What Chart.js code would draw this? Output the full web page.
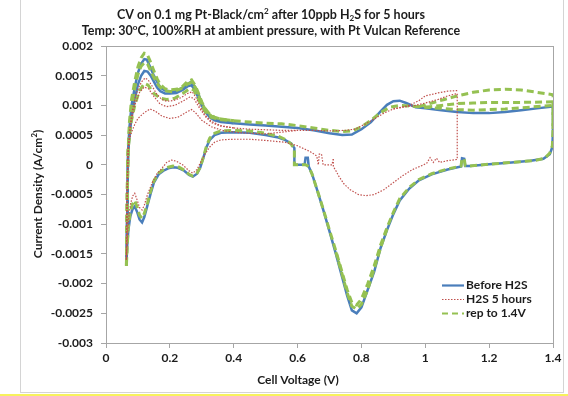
<!DOCTYPE html>
<html>
<head>
<meta charset="utf-8">
<script src="https://cdn.jsdelivr.net/npm/chart.js@4.4.1/dist/chart.umd.min.js"></script>
<style>
  html, body { margin: 0; padding: 0; background: #fff; }
  #cv { display: block; }
</style>
</head>
<body>
<canvas id="cv" width="568" height="396"></canvas>
<script>
// ---- tick values ----
const voltageTicks = [0, 0.2, 0.4, 0.6, 0.8, 1, 1.2, 1.4];
const currentTicks = [-0.003, -0.0025, -0.002, -0.0015, -0.001, -0.0005, 0, 0.0005, 0.001, 0.0015, 0.002];
const seriesNames = ['Before H2S', 'H2S 5 hours', 'rep to 1.4V'];

// ---- Before H2S: [V, A/cm2] ----
const beforeAnodicA = [[0.064,-0.00168],[0.066,-0.0009],[0.068,0],[0.072,0.0004],[0.08,0.0008],[0.09,0.0011],[0.1,0.00135],[0.11,0.0015],[0.12,0.00158],[0.13,0.00157],[0.14,0.0015],[0.15,0.0014],[0.16,0.0013],[0.17,0.00124],[0.185,0.0012],[0.2,0.0012],[0.22,0.00121],[0.24,0.00126],[0.255,0.00132],[0.268,0.00134],[0.28,0.00124],[0.29,0.00112],[0.3,0.001],[0.31,0.0009],[0.325,0.0008],[0.34,0.00075],[0.36,0.00072],[0.4,0.0007]];
const beforeAnodicB = [[0.064,-0.0017],[0.067,-0.0006],[0.069,0.0002],[0.073,0.0006],[0.08,0.001],[0.09,0.0013],[0.1,0.00155],[0.11,0.0017],[0.12,0.00178],[0.128,0.00177],[0.138,0.00165],[0.15,0.0015],[0.16,0.0014],[0.17,0.0013],[0.185,0.00125],[0.2,0.00124],[0.22,0.00124],[0.24,0.0013],[0.255,0.00136],[0.268,0.0014],[0.28,0.0013],[0.29,0.00118],[0.3,0.00104],[0.31,0.00093],[0.325,0.00083],[0.34,0.00077],[0.36,0.00074],[0.4,0.0007]];
const beforeCycle = [[0.4,0.0007],[0.45,0.00068],[0.5,0.00066],[0.55,0.00064],[0.6,0.00062],[0.65,0.00058],[0.7,0.00053],[0.74,0.0005],[0.77,0.00051],[0.8,0.0006],[0.83,0.00072],[0.86,0.0009],[0.88,0.00101],[0.9,0.00107],[0.92,0.00108],[0.94,0.00104],[0.97,0.00097],[1.0,0.00095],[1.05,0.00092],[1.1,0.00089],[1.15,0.00087],[1.2,0.00087],[1.25,0.00089],[1.3,0.00092],[1.35,0.00095],[1.4,0.00098],
  [1.4,0.0006],[1.398,0.0003],[1.39,0.00018],[1.37,0.0001],[1.33,0.00007],[1.27,0.00004],[1.2,0.00001],[1.14,-0.00002],[1.125,-0.00002],[1.122,0.0001],[1.115,0.00011],[1.112,-0.00003],[1.07,-0.00008],[1.02,-0.00016],[0.98,-0.00026],[0.95,-0.0004],[0.92,-0.0006],[0.9,-0.00083],[0.88,-0.0011],[0.86,-0.0014],[0.84,-0.0018],[0.82,-0.0021],[0.8,-0.0024],[0.785,-0.0025],[0.77,-0.00245],[0.755,-0.0022],[0.74,-0.0019],[0.72,-0.0015],[0.7,-0.00112],[0.68,-0.00075],[0.66,-0.0004],[0.645,-0.00015],[0.635,-0.00003],[0.632,0.00012],[0.625,0.00012],[0.622,0],[0.59,0],[0.59,0.00028],[0.58,0.00036],[0.56,0.00042],[0.54,0.00046],[0.5,0.0005],[0.45,0.00054],[0.4,0.00055],[0.36,0.00054],[0.34,0.0005],[0.325,0.00042],[0.315,0.0003],[0.305,0.00012],[0.295,-0.00005],[0.285,-0.00015],[0.272,-0.0002],[0.26,-0.00017],[0.245,-0.0001],[0.225,-0.00005],[0.21,-0.00004],[0.195,-0.00006],[0.18,-0.0001],[0.165,-0.00016],[0.15,-0.0003],[0.14,-0.00048],[0.13,-0.00068],[0.12,-0.00088],[0.113,-0.00097],[0.105,-0.00092],[0.098,-0.0008],[0.09,-0.0007],[0.083,-0.00075],[0.076,-0.00087],[0.07,-0.0011],[0.066,-0.0014],[0.064,-0.00168]];

// ---- H2S 5 hours ----
const h2sAnodicA = [[0.064,-0.0016],[0.067,-0.0005],[0.069,0.0002],[0.074,0.0006],[0.082,0.0009],[0.092,0.00115],[0.102,0.0013],[0.112,0.0014],[0.122,0.00146],[0.132,0.00143],[0.145,0.00132],[0.16,0.00118],[0.175,0.0011],[0.19,0.00107],[0.21,0.00108],[0.235,0.00113],[0.255,0.0012],[0.27,0.00123],[0.282,0.00113],[0.295,0.00098],[0.31,0.00084],[0.33,0.00073],[0.36,0.00066],[0.4,0.00062]];
const h2sAnodicB = [[0.064,-0.0016],[0.066,-0.0004],[0.07,0.0003],[0.078,0.0007],[0.09,0.001],[0.105,0.00122],[0.12,0.00131],[0.133,0.00128],[0.15,0.00115],[0.17,0.00102],[0.19,0.00098],[0.215,0.001],[0.24,0.00107],[0.262,0.00114],[0.275,0.00112],[0.29,0.00098],[0.31,0.00082],[0.33,0.00071],[0.36,0.00065],[0.4,0.00062]];
const h2sAnodicC = [[0.064,-0.0016],[0.066,-0.0006],[0.068,0.0001],[0.072,0.0004],[0.08,0.00055],[0.09,0.00068],[0.1,0.00078],[0.12,0.00088],[0.138,0.00094],[0.155,0.0009],[0.175,0.00082],[0.2,0.00078],[0.225,0.0008],[0.25,0.00088],[0.268,0.00093],[0.28,0.00088],[0.3,0.00075],[0.33,0.00064],[0.37,0.00057],[0.42,0.00054],[0.5,0.00052],[0.55,0.00055],[0.6,0.00058]];
const h2sHighLoop = [[0.9,0.00094],[0.95,0.001],[0.98,0.00108],[1.0,0.00116],[1.04,0.00121],[1.07,0.00124],[1.1,0.00125]];
const h2sCycle = [[0.4,0.00062],[0.45,0.0006],[0.5,0.00059],[0.55,0.00058],[0.6,0.00058],[0.65,0.00058],[0.7,0.00057],[0.75,0.00058],[0.78,0.0006],[0.81,0.00068],[0.84,0.00077],[0.87,0.00087],[0.9,0.00094],[0.93,0.00097],[0.96,0.00099],[1.0,0.00104],[1.04,0.0011],[1.07,0.00116],[1.1,0.0012],
  [1.1,0.0006],[1.1,0.00009],[1.07,0.00007],[1.045,0.00004],[1.035,0.00011],[1.025,0.00004],[1.015,0.00012],[1.005,0.00003],[0.995,0],[0.96,-0.00008],[0.93,-0.00018],[0.9,-0.0003],[0.87,-0.00042],[0.84,-0.0005],[0.815,-0.00052],[0.79,-0.0005],[0.765,-0.00042],[0.745,-0.00032],[0.73,-0.0002],[0.72,-0.0001],[0.712,-0.00003],[0.712,0.00011],[0.708,0],[0.68,0],[0.675,0.00018],[0.668,0.00018],[0.665,0],[0.66,0.00015],[0.64,0.00022],[0.6,0.00032],[0.56,0.00038],[0.5,0.00041],[0.45,0.00043],[0.4,0.00043],[0.36,0.00042],[0.34,0.00038],[0.325,0.0003],[0.31,0.00018],[0.3,0.00008],[0.285,-0.00008],[0.272,-0.00014],[0.26,-0.0001],[0.24,0],[0.22,0.00006],[0.205,0.00008],[0.19,0.00004],[0.175,-0.00006],[0.16,-0.00015],[0.145,-0.0003],[0.13,-0.0005],[0.12,-0.00068],[0.113,-0.00076],[0.105,-0.00072],[0.098,-0.0006],[0.09,-0.00048],[0.084,-0.00052],[0.077,-0.00065],[0.071,-0.0009],[0.067,-0.0012],[0.064,-0.0016]];

// ---- rep to 1.4V ----
const repAnodicA = [[0.064,-0.0017],[0.067,-0.0005],[0.069,0.0002],[0.073,0.0007],[0.08,0.0011],[0.09,0.0014],[0.1,0.00165],[0.11,0.0018],[0.12,0.00188],[0.128,0.00187],[0.138,0.00175],[0.15,0.00158],[0.16,0.00145],[0.17,0.00135],[0.185,0.00128],[0.2,0.00126],[0.22,0.00127],[0.24,0.00132],[0.255,0.0014],[0.268,0.00143],[0.28,0.00133],[0.29,0.0012],[0.3,0.00106],[0.31,0.00095],[0.325,0.00085],[0.34,0.0008],[0.36,0.00077],[0.4,0.00074]];
const repAnodicB = [[0.064,-0.0017],[0.066,-0.0008],[0.068,0.0001],[0.072,0.0005],[0.08,0.00095],[0.09,0.0013],[0.1,0.00152],[0.11,0.00166],[0.12,0.00172],[0.13,0.0017],[0.14,0.00158],[0.15,0.00147],[0.16,0.00137],[0.175,0.00128],[0.19,0.00124],[0.21,0.00123],[0.235,0.00128],[0.255,0.00136],[0.268,0.00139],[0.28,0.0013],[0.29,0.00117],[0.3,0.00103],[0.315,0.0009],[0.33,0.00082],[0.35,0.00078],[0.4,0.00074]];
const repAnodicC = [[0.064,-0.0017],[0.066,-0.0005],[0.07,0.0003],[0.078,0.0007],[0.09,0.001],[0.105,0.00125],[0.12,0.00137],[0.132,0.00134],[0.15,0.0012],[0.17,0.00112],[0.19,0.0011],[0.215,0.00112],[0.24,0.0012],[0.262,0.00128],[0.275,0.00126],[0.29,0.0011],[0.31,0.0009],[0.33,0.0008],[0.36,0.00076],[0.4,0.00074]];
const repHighA = [[0.98,0.00098],[1.02,0.00104],[1.06,0.0011],[1.1,0.00116],[1.15,0.00122],[1.2,0.00126],[1.25,0.00127],[1.3,0.00126],[1.35,0.00122],[1.4,0.00118],[1.4,0.0006]];
const repHighB = [[1.0,0.00097],[1.05,0.001],[1.1,0.00103],[1.15,0.00104],[1.2,0.00105],[1.3,0.00105],[1.4,0.00106]];
const repPeakDeep = [[0.88,-0.00108],[0.86,-0.0014],[0.84,-0.00175],[0.82,-0.0021],[0.8,-0.00235],[0.785,-0.00243],[0.77,-0.00238],[0.755,-0.00215],[0.74,-0.00185],[0.72,-0.00147]];
const repCycle = [[0.4,0.00074],[0.45,0.00072],[0.5,0.0007],[0.55,0.00069],[0.6,0.00066],[0.65,0.00062],[0.7,0.00058],[0.74,0.00056],[0.77,0.00057],[0.8,0.00064],[0.83,0.00075],[0.86,0.00088],[0.89,0.00097],[0.92,0.001],[0.95,0.00099],[1.0,0.00097],[1.05,0.00095],[1.1,0.00093],[1.15,0.00092],[1.2,0.00093],[1.25,0.00094],[1.3,0.00096],[1.35,0.00098],[1.4,0.001],
  [1.4,0.0006],[1.398,0.00032],[1.39,0.0002],[1.375,0.00011],[1.34,0.00007],[1.27,0.00004],[1.2,0.00001],[1.14,-0.00002],[1.125,-0.00001],[1.122,0.0001],[1.115,0.0001],[1.112,-0.00002],[1.07,-0.00007],[1.02,-0.00015],[0.98,-0.00025],[0.95,-0.00038],[0.92,-0.00057],[0.9,-0.0008],[0.88,-0.00106],[0.86,-0.00135],[0.84,-0.0017],[0.82,-0.002],[0.8,-0.00226],[0.785,-0.00236],[0.77,-0.00232],[0.755,-0.0021],[0.74,-0.00182],[0.72,-0.00145],[0.7,-0.0011],[0.68,-0.00074],[0.66,-0.0004],[0.645,-0.00015],[0.635,-0.00003],[0.625,0],[0.59,0],[0.59,0.00025],[0.58,0.00035],[0.56,0.00043],[0.54,0.00048],[0.5,0.00053],[0.45,0.00057],[0.4,0.00058],[0.36,0.00057],[0.34,0.00053],[0.325,0.00045],[0.315,0.00032],[0.305,0.00013],[0.295,-0.00004],[0.285,-0.00014],[0.272,-0.00019],[0.26,-0.00016],[0.245,-0.00009],[0.225,-0.00003],[0.21,-0.00002],[0.195,-0.00004],[0.18,-0.00008],[0.165,-0.00014],[0.15,-0.00027],[0.14,-0.00044],[0.13,-0.00064],[0.12,-0.00082],[0.113,-0.0009],[0.105,-0.00085],[0.098,-0.00072],[0.09,-0.0006],[0.083,-0.00066],[0.076,-0.0008],[0.07,-0.00105],[0.066,-0.0014],[0.064,-0.0017]];

const BLUE = '#4a7ebb';
const RED = '#c0504d';
const GREEN = '#95c152';
const FONT = 'Lato, "Open Sans", sans-serif';
const INK = '#1c1c1c';

const styles = [
  { borderColor: BLUE, borderWidth: 2.5, borderDash: [] },
  { borderColor: RED, borderWidth: 1.2, borderDash: [1.5, 1.5] },
  { borderColor: GREEN, borderWidth: 3, borderDash: [7, 4] }
];

function toPts(arr) {
  return arr.map(p => ({ x: p[0], y: p[1] }));
}

// one dataset per sweep; `order` puts red on top, then green, blue underneath
function traces(series, segs, order) {
  return segs.map(s => Object.assign({
    label: seriesNames[series],
    data: toPts(s),
    showLine: true,
    pointRadius: 0,
    fill: false,
    tension: 0,
    order: order
  }, styles[series]));
}

const datasets = [].concat(
  traces(0, [beforeAnodicB, beforeAnodicA, beforeCycle], 3),
  traces(2, [repAnodicA, repAnodicB, repAnodicC, repHighA, repHighB, repPeakDeep, repCycle], 2),
  traces(1, [h2sAnodicA, h2sAnodicB, h2sAnodicC, h2sHighLoop, h2sCycle], 1)
);

function fmt(v) {
  return String(parseFloat(Number(v).toFixed(4)));
}

// draws text runs, where a run may be raised (sup) or lowered (sub)
function richText(ctx, runs, x, y, size, align) {
  ctx.textBaseline = 'middle';
  ctx.textAlign = 'left';
  let total = 0;
  runs.forEach(r => {
    ctx.font = 'bold ' + (r.sup || r.sub ? size * 0.65 : size) + 'px ' + FONT;
    r.w = ctx.measureText(r.t).width;
    total += r.w;
  });
  let cx = align === 'center' ? x - total / 2 : x;
  runs.forEach(r => {
    ctx.font = 'bold ' + (r.sup || r.sub ? size * 0.65 : size) + 'px ' + FONT;
    const dy = r.sup ? -size * 0.32 : r.sub ? size * 0.25 : 0;
    ctx.fillText(r.t, cx, y + dy);
    cx += r.w;
  });
}

const decor = {
  id: 'decor',
  beforeDraw(chart) {
    const ctx = chart.ctx;
    ctx.save();
    ctx.fillStyle = '#fff';
    ctx.fillRect(0, 0, chart.width, chart.height);
    // chart frame
    ctx.strokeStyle = '#d4d4d4';
    ctx.lineWidth = 1;
    ctx.strokeRect(20.5, -2, 543, 394.5);
    ctx.fillStyle = '#f7f25c';
    ctx.fillRect(0, 394, chart.width, 2);
    ctx.restore();
  },
  beforeDatasetsDraw(chart) {
    const a = chart.chartArea;
    const ctx = chart.ctx;
    ctx.save();
    ctx.strokeStyle = '#a6a6a6';
    ctx.lineWidth = 1;
    ctx.strokeRect(Math.round(a.left) + 0.5, Math.round(a.top) + 0.5, Math.round(a.right - a.left), Math.round(a.bottom - a.top));
    ctx.restore();
  },
  afterDraw(chart) {
    const ctx = chart.ctx;
    ctx.save();
    ctx.fillStyle = INK;
    richText(ctx, [{ t: 'CV on 0.1 mg Pt-Black/cm' }, { t: '2', sup: true }, { t: ' after 10ppb H' }, { t: '2', sub: true }, { t: 'S for 5 hours' }], 271, 15, 12.5, 'center');
    richText(ctx, [{ t: 'Temp: 30' }, { t: 'o', sup: true }, { t: 'C, 100%RH at ambient pressure, with Pt Vulcan Reference' }], 271, 31, 12.5, 'center');
    richText(ctx, [{ t: 'Cell Voltage (V)' }], 298, 380, 12, 'center');
    ctx.save();
    ctx.translate(38, 194);
    ctx.rotate(-Math.PI / 2);
    richText(ctx, [{ t: 'Current Density (A/cm' }, { t: '2', sup: true }, { t: ')' }], 0, 0, 12, 'center');
    ctx.restore();

    // legend
    const rows = [285, 299, 313];
    rows.forEach((y, i) => {
      const st = styles[i];
      ctx.save();
      ctx.strokeStyle = st.borderColor;
      ctx.lineWidth = i === 1 ? 1.2 : 2.2;
      ctx.setLineDash(i === 2 ? [6, 4] : st.borderDash);
      ctx.beginPath();
      ctx.moveTo(442, y + 0.5);
      ctx.lineTo(464, y + 0.5);
      ctx.stroke();
      ctx.restore();
      ctx.fillStyle = INK;
      richText(ctx, [{ t: seriesNames[i] }], 466, y, 12, 'left');
    });
    ctx.restore();
  }
};

new Chart(document.getElementById('cv'), {
  type: 'scatter',
  data: { datasets: datasets },
  plugins: [decor],
  options: {
    responsive: false,
    animation: false,
    devicePixelRatio: 1,
    layout: { padding: { top: 46, right: 15, bottom: 0, left: 0 } },
    plugins: { legend: { display: false }, tooltip: { enabled: false }, title: { display: false } },
    scales: {
      x: {
        type: 'linear',
        min: 0,
        max: 1.4,
        afterFit: s => { s.height = 53; },
        afterBuildTicks: s => { s.ticks = voltageTicks.map(v => ({ value: v })); },
        grid: { drawOnChartArea: false, drawTicks: true, tickLength: 5, color: '#a6a6a6' },
        border: { display: true, color: '#a6a6a6' },
        ticks: { padding: 3, maxRotation: 0, autoSkip: false, color: INK, font: { family: FONT, size: 12, weight: 'bold' }, callback: v => fmt(v) }
      },
      y: {
        type: 'linear',
        min: -0.003,
        max: 0.002,
        afterFit: s => { s.width = 106; },
        afterBuildTicks: s => { s.ticks = currentTicks.map(v => ({ value: v })); },
        grid: { drawOnChartArea: false, drawTicks: true, tickLength: 5, color: '#a6a6a6' },
        border: { display: true, color: '#a6a6a6' },
        ticks: { padding: 8, autoSkip: false, color: INK, font: { family: FONT, size: 12, weight: 'bold' }, callback: v => fmt(v) }
      }
    }
  }
});
</script>
</body>
</html>
